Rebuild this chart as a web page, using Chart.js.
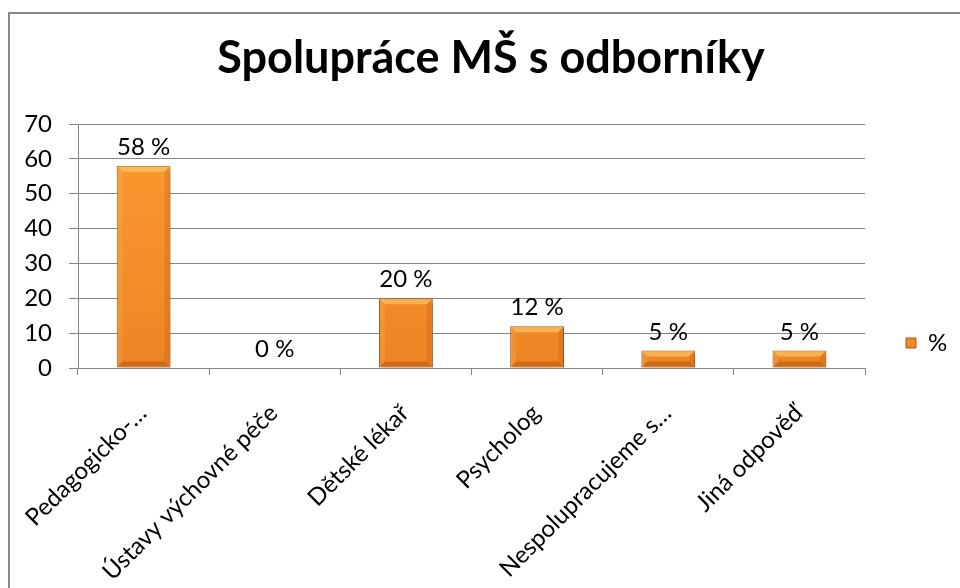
<!DOCTYPE html>
<html>
<head>
<meta charset="utf-8">
<script src="https://cdn.jsdelivr.net/npm/chart.js@4"></script>
<style>
  html, body { margin: 0; padding: 0; background: #fff; overflow: hidden; }
  #frame { position: absolute; left: 8px; top: 12px; width: 962px; height: 658px; border: 2px solid #898989; }
  #chartOdbornici { display: block; }
</style>
</head>
<body>
<div id="frame"><canvas id="chartOdbornici" width="962" height="658"></canvas></div>
<script>
// Data
const kategorie = ['Pedagogicko-…', 'Ústavy výchovné péče', 'Dětské lékař', 'Psycholog', 'Nespolupracujeme s…', 'Jiná odpověď'];
const procenta = [58, 0, 20, 12, 5, 5];
const nazevSerie = '%';
const osaY = { min: 0, max: 70, krok: 10 };

const pismo = "Lato, 'Noto Sans', sans-serif";
const sedaMrizka = '#868686';

Chart.defaults.font.family = pismo;
Chart.defaults.color = '#000';

// Vertikalni gradient tela sloupce
function barvaSloupce(context) {
    const chart = context.chart;
    const area = chart.chartArea;
    if (!area) return '#F28C28';
    const g = chart.ctx.createLinearGradient(0, area.top, 0, area.bottom);
    g.addColorStop(0, '#FB9B30');
    g.addColorStop(1, '#EE8424');
    return g;
}

// Stin pod sloupci
const stinPlugin = {
    id: 'stin',
    beforeDatasetsDraw(chart) {
        const ctx = chart.ctx;
        ctx.save();
        ctx.shadowColor = 'rgba(0, 0, 0, 0.35)';
        ctx.shadowBlur = 5;
        ctx.shadowOffsetX = 2;
        ctx.shadowOffsetY = 3;
    },
    afterDatasetsDraw(chart) {
        chart.ctx.restore();
    }
};

// Zkoseni hran sloupcu (svetla horni hrana, tmava spodni)
const zkoseniPlugin = {
    id: 'zkoseni',
    afterDatasetsDraw(chart) {
        const ctx = chart.ctx;
        const meta = chart.getDatasetMeta(0);
        meta.data.forEach(bar => {
            const { x, y, base, width } = bar.getProps(['x', 'y', 'base', 'width'], true);
            const l = x - width / 2, r = x + width / 2, t = y, b = base;
            const h = b - t;
            if (h < 2) return;
            const s = Math.min(6, h / 2);
            ctx.save();
            ctx.fillStyle = 'rgba(255, 214, 120, 0.55)';
            ctx.beginPath();
            ctx.moveTo(l + 1, t + 1); ctx.lineTo(r - 1, t + 1); ctx.lineTo(r - s, t + s); ctx.lineTo(l + s, t + s);
            ctx.closePath(); ctx.fill();
            ctx.fillStyle = 'rgba(140, 60, 0, 0.35)';
            ctx.beginPath();
            ctx.moveTo(l + 1, b - 1); ctx.lineTo(r - 1, b - 1); ctx.lineTo(r - s, b - s); ctx.lineTo(l + s, b - s);
            ctx.closePath(); ctx.fill();
            ctx.fillStyle = 'rgba(160, 70, 0, 0.18)';
            ctx.beginPath();
            ctx.moveTo(r - 1, t + 1); ctx.lineTo(r - 1, b - 1); ctx.lineTo(r - s, b - s); ctx.lineTo(r - s, t + s);
            ctx.closePath(); ctx.fill();
            ctx.fillStyle = 'rgba(255, 200, 120, 0.18)';
            ctx.beginPath();
            ctx.moveTo(l + 1, t + 1); ctx.lineTo(l + 1, b - 1); ctx.lineTo(l + s, b - s); ctx.lineTo(l + s, t + s);
            ctx.closePath(); ctx.fill();
            ctx.restore();
        });
    }
};

// Popisky hodnot nad sloupci
const popiskyPlugin = {
    id: 'popisky',
    afterDatasetsDraw(chart) {
        const ctx = chart.ctx;
        const meta = chart.getDatasetMeta(0);
        ctx.save();
        ctx.font = '24px ' + pismo;
        ctx.fillStyle = '#000';
        ctx.textAlign = 'center';
        ctx.textBaseline = 'alphabetic';
        meta.data.forEach((bar, i) => {
            ctx.fillText(procenta[i] + ' %', bar.x, bar.y - 11);
        });
        ctx.restore();
    }
};

const ctxOdbornici = document.getElementById('chartOdbornici').getContext('2d');

const grafOdbornici = new Chart(ctxOdbornici, {
    type: 'bar',
    data: {
        labels: kategorie,
        datasets: [{
            label: nazevSerie,
            data: procenta,
            backgroundColor: barvaSloupce,
            borderColor: '#B2601A',
            borderWidth: 1,
            barPercentage: 0.41,
            categoryPercentage: 1.0
        }]
    },
    options: {
        responsive: false,
        animation: false,
        layout: { padding: 0 },
        plugins: {
            title: {
                display: true,
                text: 'Spolupráce MŠ s odborníky',
                color: '#000',
                font: { size: 45, weight: 'bold', family: pismo },
                padding: { top: 17, bottom: 39 }
            },
            legend: {
                position: 'right',
                labels: {
                    boxWidth: 10,
                    boxHeight: 10,
                    padding: 41,
                    color: '#000',
                    font: { size: 24 },
                    generateLabels(chart) {
                        const items = Chart.defaults.plugins.legend.labels.generateLabels(chart);
                        items.forEach(it => {
                            it.fillStyle = '#F08A24';
                            it.strokeStyle = '#A65A1A';
                            it.lineWidth = 1;
                        });
                        return items;
                    }
                }
            },
            tooltip: { enabled: false }
        },
        scales: {
            x: {
                grid: { drawOnChartArea: false, color: sedaMrizka, tickLength: 7, offset: true },
                border: { color: sedaMrizka, width: 1 },
                ticks: {
                    autoSkip: false,
                    minRotation: 45,
                    maxRotation: 45,
                    padding: 24,
                    labelOffset: -1,
                    color: '#000',
                    font: { size: 24 }
                },
                afterFit(scale) {
                    scale.height = 304;
                    // misto vpravo pro legendu, vlevo jen osa Y
                    scale.paddingRight = 107;
                    scale.paddingLeft = 0;
                }
            },
            y: {
                min: osaY.min,
                max: osaY.max,
                grid: { color: sedaMrizka, lineWidth: 1, tickLength: 9 },
                border: { color: sedaMrizka, width: 1 },
                ticks: {
                    stepSize: osaY.krok,
                    padding: 17,
                    color: '#000',
                    font: { size: 24 }
                },
                afterFit(scale) { scale.width = 68; }
            }
        }
    },
    plugins: [stinPlugin, zkoseniPlugin, popiskyPlugin]
});
</script>
</body>
</html>
